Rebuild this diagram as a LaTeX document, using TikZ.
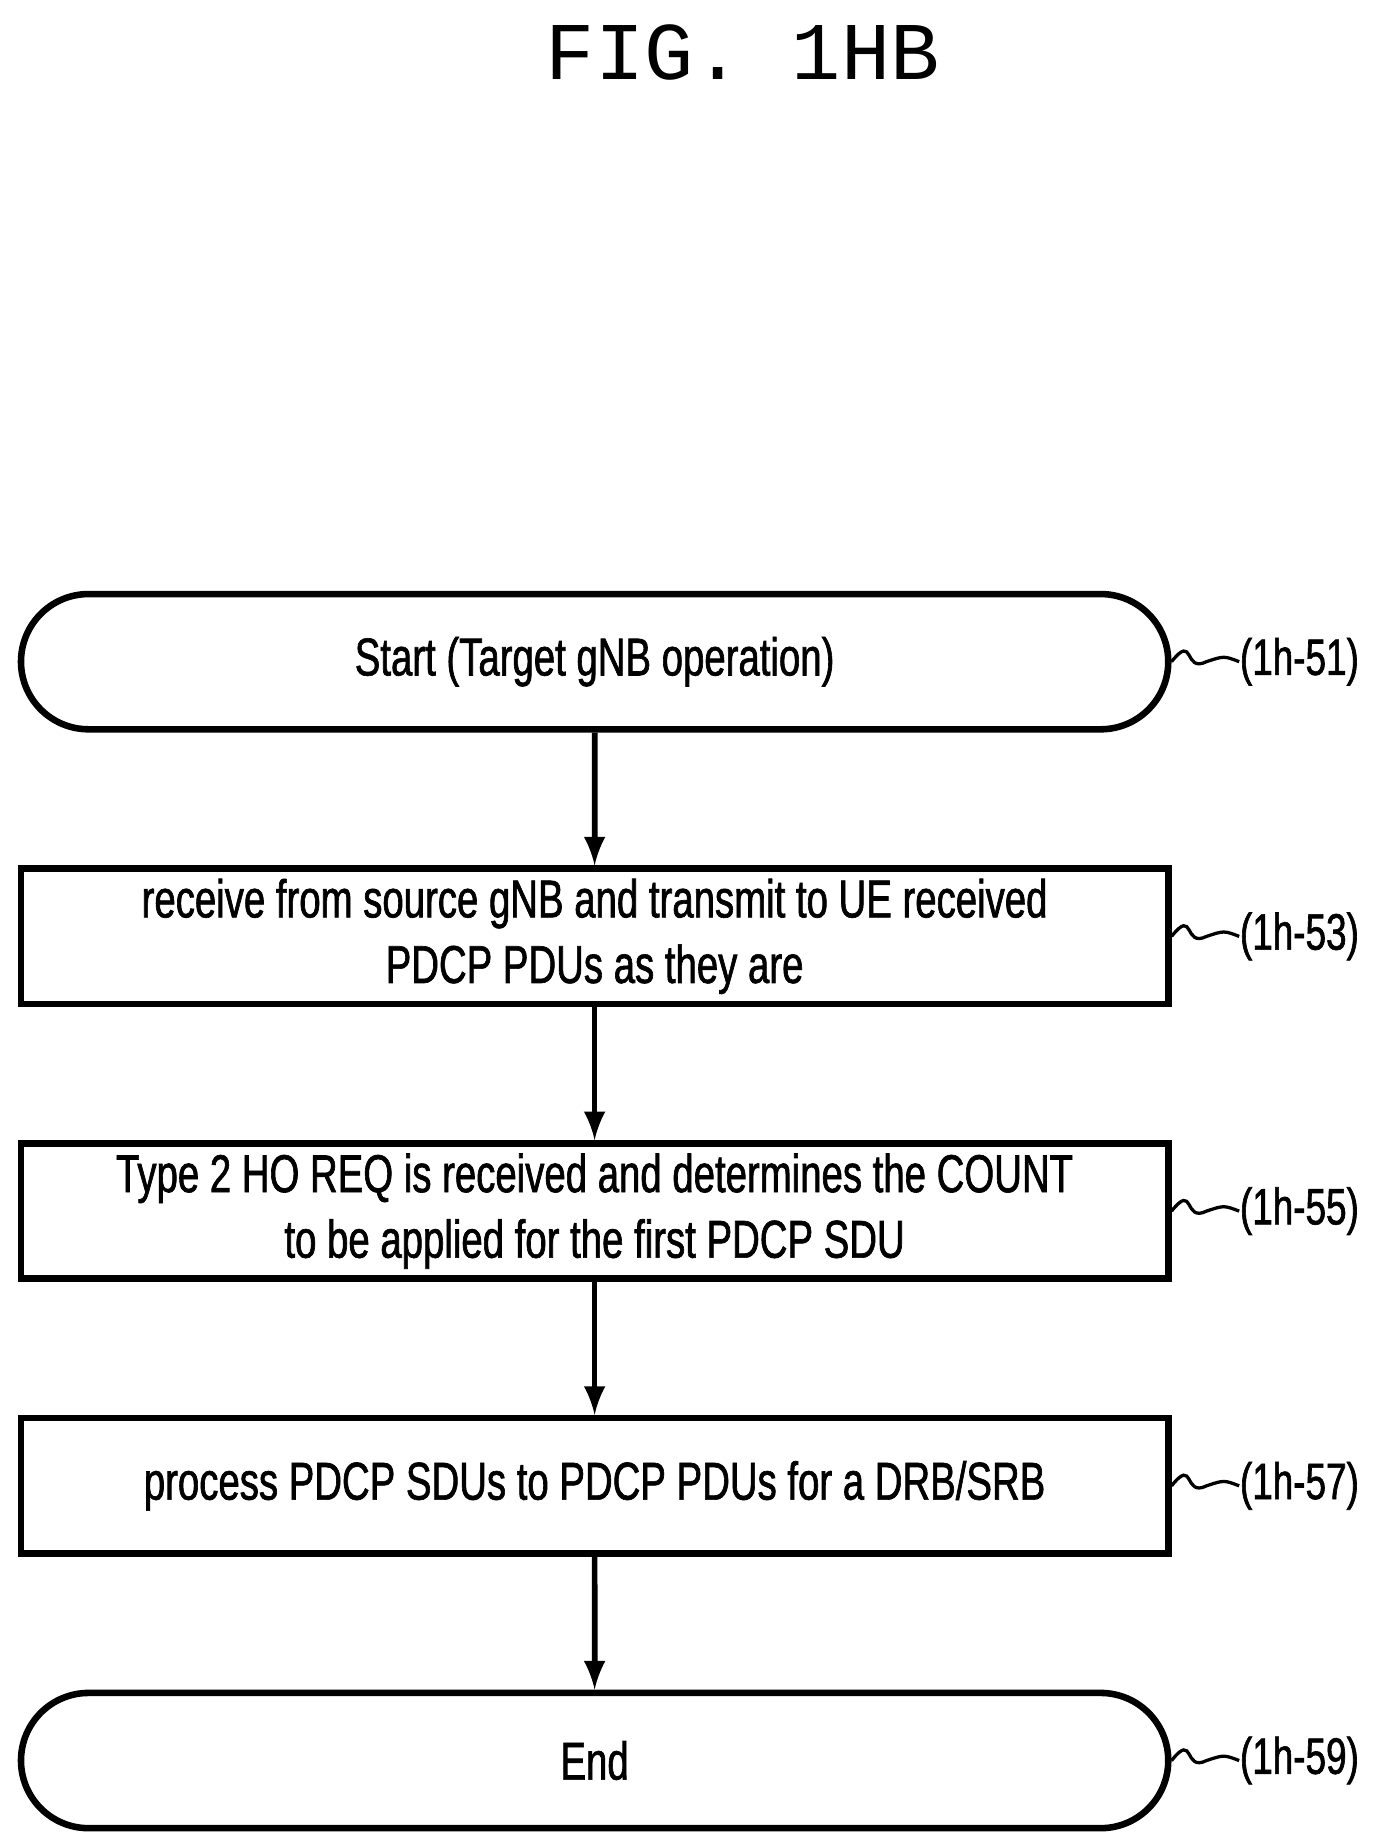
\documentclass[tikz,border=0pt]{standalone}
\usepackage{fontspec}
\setmainfont{Liberation Sans}
\newfontfamily\condfont[FakeStretch=0.72,FakeBold=1.2]{Liberation Sans}
\newfontfamily\titlefont{Liberation Mono}
\usetikzlibrary{positioning,shapes.misc}
\tikzset{
	box/.style={draw,line width=1.6pt,rectangle,minimum width=9.84cm,
		minimum height=1.16cm,align=center,inner sep=0pt,
		font=\condfont\fontsize{13}{16}\selectfont},
	term/.style={box,rounded rectangle},
	flow/.style={->,line width=1.4pt,>=latex},
	tag/.style={font=\condfont\fontsize{12.5}{14}\selectfont,anchor=west,inner sep=0pt},
	wave/.style={line width=0.8pt}
}
\begin{document}
\begin{tikzpicture}[node distance=1.14cm]
\useasboundingbox (0,0) rectangle (11.85,-15.73);

\node[font=\titlefont\fontsize{20}{24}\selectfont] (title) at (6.37,-0.45) {FIG. 1HB};

\node[term] (start) at (5.10,-5.675) {Start (Target gNB operation)};
\node[box,below=of start] (recv) {receive from source gNB and transmit to UE received\\PDCP PDUs as they are};
\node[box,below=of recv] (count) {Type 2 HO REQ is received and determines the COUNT\\to be applied for the first PDCP SDU};
\node[box,below=of count] (proc) {process PDCP SDUs to PDCP PDUs for a DRB/SRB};
\node[term,below=of proc] (end) {End};

\draw[flow] (start) -- (recv);
\draw[flow] (recv) -- (count);
\draw[flow] (count) -- (proc);
\draw[flow] (proc) -- (end);

% reference labels
\foreach \n/\t in {start/51,recv/53,count/55,proc/57,end/59}{
	\node[tag] (l\t) at ([xshift=0.58cm]\n.east) {(1h-\t)};
	\draw[wave] (\n.east) .. controls +(0.2,0.25) and +(-0.2,-0.1) .. ++(0.3,0.0)
		.. controls +(0.15,0.05) .. (l\t.west);
}

\end{tikzpicture}
\end{document}
